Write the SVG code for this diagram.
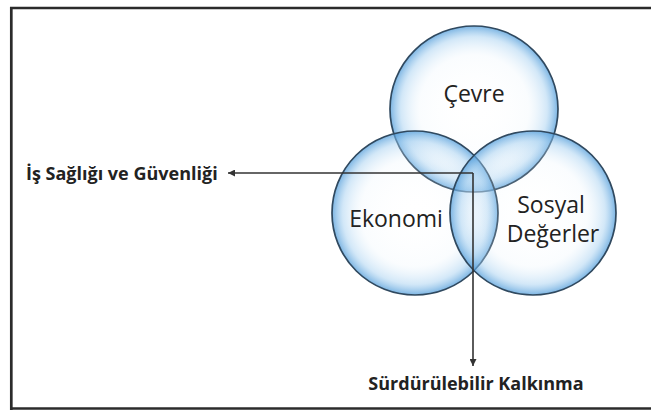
<svg xmlns="http://www.w3.org/2000/svg" width="651" height="410" viewBox="0 0 651 410">
  <style>
    .frame { stroke: #2b2b2b; stroke-width: 2.7; fill: none; }
    .circle { fill: url(#bubble); stroke: #30495f; stroke-width: 1.7; }
    .lbl { font-family: "Open Sans", "Liberation Sans", sans-serif; font-size: 23px; fill: #222; text-anchor: middle; }
    .side { font-family: "Open Sans", "Liberation Sans", sans-serif; font-size: 18px; font-weight: bold; fill: #222; }
    .conn { stroke: #333; stroke-width: 1.6; fill: none; }
  </style>
  <defs>
    <radialGradient id="bubble" cx="50%" cy="50%" r="50%">
      <stop offset="0%" stop-color="#ffffff" stop-opacity="0"/>
      <stop offset="65%" stop-color="#e6f2fb" stop-opacity="0.2"/>
      <stop offset="87%" stop-color="#9ccbef" stop-opacity="0.45"/>
      <stop offset="100%" stop-color="#4f9bd9" stop-opacity="0.75"/>
    </radialGradient>
    <marker id="arrow" viewBox="0 0 10 10" refX="10" refY="5" markerWidth="7" markerHeight="7" markerUnits="userSpaceOnUse" orient="auto">
      <path d="M0,0 L10,5 L0,10 z" fill="#333"/>
    </marker>
  </defs>
  <rect width="651" height="410" fill="#ffffff"/>
  <g id="frame">
    <path class="frame" d="M11.3,410 L11.3,8 L651,8"/>
    <path class="frame" d="M10,408.5 L651,408.5"/>
  </g>
  <g id="cevre">
    <ellipse class="circle" cx="474" cy="109" rx="84" ry="83"/>
  </g>
  <g id="ekonomi">
    <ellipse class="circle" cx="415" cy="213" rx="83" ry="82"/>
  </g>
  <g id="sosyal">
    <ellipse class="circle" cx="533" cy="213" rx="83" ry="82"/>
  </g>
  <g id="labels">
    <text class="lbl" x="474" y="102">Çevre</text>
    <text class="lbl" x="396" y="227">Ekonomi</text>
    <text class="lbl" x="551" y="213">Sosyal</text>
    <text class="lbl" x="553" y="242">Değerler</text>
  </g>
  <g id="connectors">
    <path class="conn" d="M473,173 L228,173" marker-end="url(#arrow)"/>
    <path class="conn" d="M473,173 L473,366" marker-end="url(#arrow)"/>
  </g>
  <g id="isg">
    <text class="side" x="26" y="179.5">İş Sağlığı ve Güvenliği</text>
  </g>
  <g id="surdurulebilir">
    <text class="side" x="476" y="390" text-anchor="middle" font-size="17.5">Sürdürülebilir Kalkınma</text>
  </g>
</svg>
